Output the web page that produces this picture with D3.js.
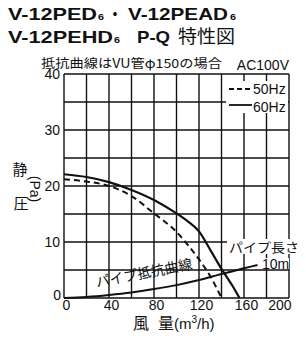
<!DOCTYPE html>
<html><head><meta charset="utf-8">
<script src="https://cdn.jsdelivr.net/npm/d3@7"></script>
<style>body{margin:0;background:#fff}svg{display:block}</style>
</head><body>
<script>
// ---- data ----
const xTicks = [0, 40, 80, 120, 160, 200];
const yTicks = [0, 10, 20, 30, 40];
const q60 = [0, 20, 40, 60, 80, 100, 110, 120, 130, 140, 150, 156];
const p60 = [22.1, 21.6, 20.7, 19.3, 17.5, 15.1, 13.7, 11.9, 8.6, 5.2, 2.1, 0];
const q50 = [0, 20, 40, 60, 80, 100, 110, 120, 130, 140];
const p50 = [21.2, 20.8, 20.0, 18.2, 15.1, 11.8, 9.5, 6.9, 3.9, 0];
const qPipe = [0, 20, 40, 60, 80, 100, 120, 140, 160, 172];
const pPipe = [0, 0.2, 0.55, 1.0, 1.6, 2.3, 3.2, 4.3, 5.3, 5.9];
const legendLabels = ["50Hz", "60Hz"];

const W = 306, H = 347;
const svg = d3.select("body").append("svg").attr("width", W).attr("height", H);
const x = d3.scaleLinear().domain([0, 200]).range([64, 289]);
const y = d3.scaleLinear().domain([0, 40]).range([298, 74]);
const jp = "'Noto Sans CJK JP', sans-serif";
const lat = "'Liberation Sans', Arial, sans-serif";

// ---- title ----
function tspanTitle(g, parts, yb) {
  parts.forEach(p => {
    g.append("text").attr("x", p.x).attr("y", yb)
      .attr("font-family", p.jp ? jp : lat).attr("font-weight", p.bold ? 700 : 400)
      .attr("font-size", p.fs).attr("textLength", p.w).attr("lengthAdjust", "spacingAndGlyphs")
      .attr("fill", "#111").text(p.t);
  });
}
const tg = svg.append("g");
tspanTitle(tg, [
  {t: "V-12PED", x: 8, w: 89, fs: 17, bold: true},
  {t: "6", x: 98, w: 6, fs: 9, bold: true},
  {t: "・", x: 108, w: 14, fs: 16, bold: true, jp: true},
  {t: "V-12PEAD", x: 128, w: 100, fs: 17, bold: true},
  {t: "6", x: 230, w: 6, fs: 9, bold: true}
], 19.5);
tspanTitle(tg, [
  {t: "V-12PEHD", x: 8, w: 105, fs: 17, bold: true},
  {t: "6", x: 114, w: 6, fs: 9, bold: true},
  {t: "P-Q", x: 137, w: 33, fs: 17, bold: true},
  {t: "特性図", x: 178, w: 57, fs: 18, jp: true}
], 43);

// ---- grid ----
const grid = svg.append("g").attr("stroke", "#111").attr("stroke-width", 1.4);
d3.range(0, 201, 20).forEach(v => grid.append("line")
  .attr("x1", x(v)).attr("x2", x(v)).attr("y1", y(0)).attr("y2", y(40)));
d3.range(0, 41, 5).forEach(v => grid.append("line")
  .attr("x1", x(0)).attr("x2", x(200)).attr("y1", y(v)).attr("y2", y(v)));

// ---- white boxes behind labels ----
svg.append("rect").attr("x", 226).attr("y", 81).attr("width", 62).attr("height", 32).attr("fill", "#fff");
svg.append("rect").attr("x", 227).attr("y", 239).attr("width", 79).attr("height", 15).attr("fill", "#fff");
svg.append("rect").attr("x", 261).attr("y", 258).attr("width", 28).attr("height", 11).attr("fill", "#fff");

// ---- axes labels ----
const xAxis = d3.axisBottom(x).tickValues(xTicks).tickSize(0).tickPadding(0);
const gx = svg.append("g").attr("transform", `translate(0,${y(0)})`).call(xAxis);
gx.select(".domain").remove();
gx.selectAll("text").attr("font-family", lat).attr("font-size", 14).attr("fill", "#111")
  .attr("dy", "0").attr("y", 11.5)
  .attr("text-anchor", d => d === 0 ? "start" : d === 200 ? "end" : "middle")
  .attr("dx", d => d === 0 ? -2 : 2);
const yAxis = d3.axisLeft(y).tickValues(yTicks).tickSize(0).tickPadding(3);
const gy = svg.append("g").attr("transform", `translate(${x(0)},0)`).call(yAxis);
gy.select(".domain").remove();
gy.selectAll("text").attr("font-family", lat).attr("font-size", 14).attr("fill", "#111")
  .attr("dy", d => d === 0 ? "0.1em" : "0.35em").attr("x", d => d === 0 ? -3 : -4);

// x title
const xt = svg.append("text").attr("y", 329).attr("font-family", jp).attr("font-size", 16).attr("fill", "#111");
xt.append("tspan").attr("x", 133).text("風");
xt.append("tspan").attr("x", 158).text("量");
xt.append("tspan").attr("font-family", lat).attr("font-size", 15).text("(m");
xt.append("tspan").attr("font-family", lat).attr("font-size", 10).attr("dy", -6).text("3");
xt.append("tspan").attr("font-family", lat).attr("font-size", 15).attr("dy", 6).text("/h)");

// y title
svg.append("text").attr("x", 20).attr("y", 175).attr("text-anchor", "middle")
  .attr("font-family", jp).attr("font-size", 15).attr("fill", "#111").text("静");
svg.append("text").attr("x", 21).attr("y", 209).attr("text-anchor", "middle")
  .attr("font-family", jp).attr("font-size", 15).attr("fill", "#111").text("圧");
svg.append("text").attr("transform", "translate(30,189) rotate(90)").attr("text-anchor", "middle")
  .attr("font-family", lat).attr("font-size", 14).attr("fill", "#111").text("(Pa)");

// note + AC100V
svg.append("text").attr("x", 41).attr("y", 68).attr("font-family", jp).attr("font-size", 12.5)
  .attr("textLength", 181).attr("lengthAdjust", "spacingAndGlyphs").attr("fill", "#111").text("抵抗曲線はVU管φ150の場合");
svg.append("text").attr("x", 289).attr("y", 70).attr("text-anchor", "end").attr("font-family", lat)
  .attr("font-size", 14).attr("fill", "#111").text("AC100V");

// ---- curves ----
const line = d3.line().x(d => x(d[0])).y(d => y(d[1])).curve(d3.curveMonotoneX);
const d60 = q60.map((q, i) => [q, p60[i]]);
const d50 = q50.map((q, i) => [q, p50[i]]);
const dPipe = qPipe.map((q, i) => [q, pPipe[i]]);
svg.append("path").attr("d", line(dPipe)).attr("fill", "none").attr("stroke", "#111").attr("stroke-width", 2);
svg.append("path").attr("d", line(d50)).attr("fill", "none").attr("stroke", "#111").attr("stroke-width", 2)
  .attr("stroke-dasharray", "6,4");
svg.append("path").attr("d", line(d60)).attr("fill", "none").attr("stroke", "#111").attr("stroke-width", 2.2);

// ---- legend ----
const lg = svg.append("g");
[0, 1].forEach(i => {
  const yy = i === 0 ? 89 : 105;
  lg.append("line").attr("x1", 229).attr("x2", 252).attr("y1", yy).attr("y2", yy)
    .attr("stroke", "#111").attr("stroke-width", 1.8).attr("stroke-dasharray", i === 0 ? "5,3" : null);
  lg.append("text").attr("x", 253).attr("y", yy + 5 + (i === 1 ? 2 : 0)).attr("font-family", lat)
    .attr("font-size", 14).attr("fill", "#111").text(legendLabels[i]);
});

// ---- pipe labels ----
svg.append("text").attr("x", 229).attr("y", 252).attr("font-family", jp).attr("font-size", 13)
  .attr("textLength", 70).attr("lengthAdjust", "spacingAndGlyphs").attr("fill", "#111").text("パイプ長さ");
svg.append("text").attr("x", 262).attr("y", 269).attr("font-family", lat).attr("font-size", 14)
  .attr("fill", "#111").text("10m");
svg.append("text").attr("transform", "translate(145,278) rotate(-11)").attr("text-anchor", "middle")
  .attr("font-family", jp).attr("font-size", 14).attr("fill", "#111").text("パイプ抵抗曲線");
</script>
</body></html>
